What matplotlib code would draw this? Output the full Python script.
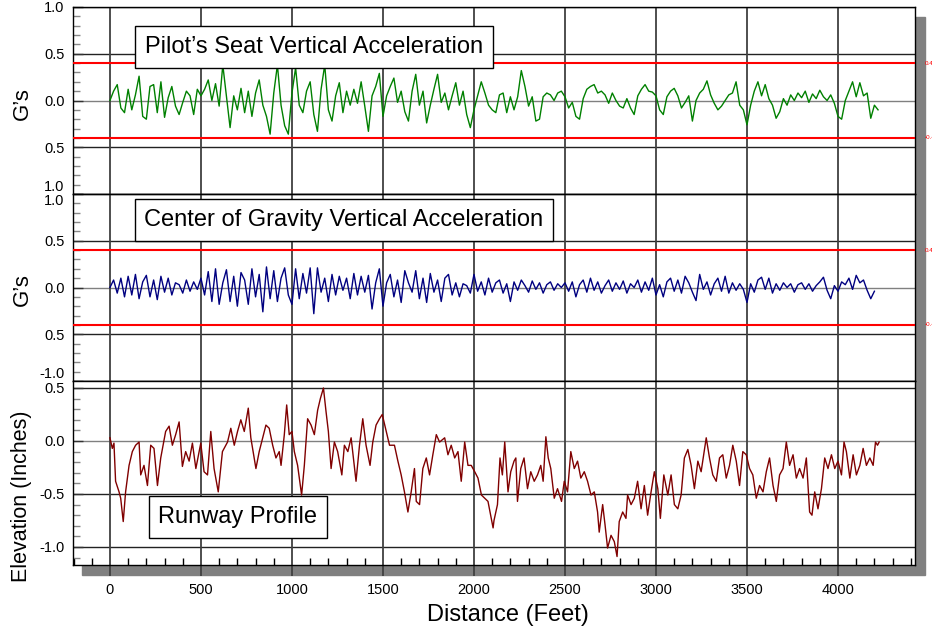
import matplotlib.pyplot as plt
import numpy as np
from matplotlib.patches import Rectangle
from matplotlib.ticker import MultipleLocator

plt.rcParams['font.family'] = ['Liberation Sans', 'DejaVu Sans']

# samples every 20 ft along the runway
step_ft = 20

pilot_g = [
    0.00, 0.10, 0.17, -0.08, -0.13, 0.12, -0.10, 0.06, 0.26, -0.17, -0.20, 0.15, 0.17,
    -0.13, 0.20, -0.18, 0.03, 0.15, -0.06, -0.15, -0.02, 0.10, 0.05, -0.15, 0.12,
    0.05, 0.12, 0.22, 0.00, 0.18, -0.06, 0.38, 0.05, -0.29, 0.05, -0.10, 0.13, -0.13,
    0.10, -0.17, 0.08, 0.22, -0.05, -0.17, -0.36, 0.08, 0.38, -0.05, -0.27, -0.36,
    0.08, 0.35, -0.05, -0.13, 0.10, 0.20, -0.15, -0.33, 0.12, 0.38, -0.10, -0.22, 0.05,
    0.19, -0.13, 0.10, -0.05, 0.12, -0.03, 0.20, -0.06, -0.33, 0.05, 0.15, 0.29,
    -0.17, 0.05, 0.15, 0.24, -0.02, 0.10, -0.12, -0.22, 0.10, 0.28, -0.05, 0.10, -0.24,
    -0.05, 0.12, 0.28, -0.02, 0.08, -0.10, 0.05, 0.19, -0.05, 0.10, -0.15, -0.29,
    -0.10, 0.05, 0.20, 0.08, -0.05, -0.10, -0.13, 0.06, 0.08, -0.13, 0.04, -0.10, 0.04,
    0.32, 0.15, -0.06, 0.04, -0.22, -0.20, 0.04, 0.08, 0.06, 0.00, 0.08, 0.10,
    0.04, -0.08, -0.02, -0.17, -0.20, 0.02, 0.12, 0.15, 0.17, 0.08, 0.10, 0.06, -0.03,
    0.08, 0.00, -0.06, -0.08, 0.02, -0.08, -0.15, 0.05, 0.12, 0.17, 0.10, 0.09,
    0.05, -0.10, -0.15, 0.04, 0.10, 0.13, 0.05, -0.08, -0.02, 0.05, -0.22, 0.00, 0.08,
    0.12, 0.21, 0.06, -0.03, -0.10, -0.06, 0.00, 0.06, 0.08, 0.20, -0.05, -0.10,
    -0.26, -0.05, 0.10, 0.20, 0.05, 0.17, 0.02, -0.05, -0.19, -0.12, 0.02, -0.05, 0.06,
    0.00, 0.08, 0.03, 0.10, -0.02, 0.07, 0.02, 0.11, 0.04, 0.00, 0.06, -0.03,
    -0.17, -0.20, 0.00, 0.10, 0.20, 0.04, 0.19, 0.05, 0.08, -0.19, -0.05, -0.10,
]

cg_g = [
    0.00, 0.08, -0.06, 0.10, -0.10, 0.12, -0.08, 0.14, -0.12, 0.06, 0.13, -0.10, 0.08,
    -0.13, 0.12, -0.05, 0.10, -0.08, 0.05, 0.03, -0.06, 0.08, -0.04, 0.06, -0.02,
    0.10, -0.08, 0.17, -0.15, 0.20, -0.18, 0.05, 0.19, -0.15, 0.12, -0.20, 0.16, 0.08,
    -0.18, 0.20, -0.10, 0.14, -0.26, 0.22, -0.12, 0.18, -0.15, 0.10, 0.21, -0.08,
    -0.18, 0.20, -0.12, 0.15, -0.06, 0.21, -0.28, 0.21, -0.05, 0.10, -0.15, 0.14, -0.08,
    0.12, -0.03, 0.10, -0.12, 0.15, -0.08, 0.12, -0.05, 0.13, -0.23, 0.05, 0.20,
    -0.20, 0.05, 0.14, -0.10, 0.08, -0.16, 0.18, 0.05, -0.05, 0.18, -0.12, 0.10, -0.16,
    0.15, -0.05, 0.08, -0.15, 0.10, 0.14, -0.08, 0.05, -0.10, 0.04, 0.02, -0.06,
    0.14, -0.04, 0.06, -0.08, 0.10, -0.05, 0.05, 0.08, -0.06, 0.04, -0.15, 0.06, -0.03,
    0.08, 0.02, -0.05, 0.07, -0.02, 0.05, -0.06, 0.03, 0.06, -0.03, 0.04, 0.00,
    0.05, -0.04, 0.06, -0.10, 0.03, 0.08, -0.05, 0.10, -0.03, 0.06, -0.06, 0.02, 0.08,
    -0.04, 0.05, -0.02, 0.07, -0.06, 0.04, 0.00, 0.08, -0.05, 0.06, -0.03, 0.10,
    -0.08, 0.03, -0.10, 0.06, 0.10, -0.04, 0.08, -0.06, 0.12, 0.05, -0.05, -0.14, 0.14,
    -0.02, 0.06, -0.08, 0.04, 0.10, -0.04, 0.12, -0.06, 0.05, -0.03, 0.04, -0.02,
    -0.16, 0.04, -0.05, 0.08, 0.11, -0.02, 0.10, -0.06, 0.04, -0.03, 0.05, 0.00, 0.04,
    -0.05, 0.03, 0.05, -0.02, 0.04, -0.04, 0.02, 0.06, 0.11, -0.03, -0.12, 0.02,
    -0.04, 0.06, 0.03, 0.10, -0.02, 0.13, 0.05, 0.08, -0.03, -0.12, -0.04,
]

runway_ft = [
    0, 13, 22, 31, 50, 59, 73, 86, 105, 123, 141, 160, 169, 187, 206, 224, 242, 261,
    279, 306, 325, 343, 361, 380, 398, 416, 435, 453, 472, 499, 517, 536, 554, 572,
    595, 618, 646, 664, 683, 701, 719, 738, 760, 774, 802, 820, 839, 857, 875, 894,
    912, 930, 940, 958, 971, 985, 1000, 1013, 1031, 1053, 1068, 1086, 1105, 1123,
    1141, 1156, 1173, 1187, 1200, 1215, 1233, 1251, 1274, 1288, 1307, 1325, 1352,
    1371, 1389, 1407, 1429, 1444, 1462, 1481, 1496, 1518, 1536, 1563, 1582, 1600,
    1618, 1637, 1655, 1673, 1683, 1701, 1719, 1738, 1756, 1774, 1793, 1811, 1839,
    1857, 1875, 1894, 1912, 1930, 1949, 1967, 1985, 2004, 2022, 2041, 2059, 2077,
    2105, 2110, 2129, 2143, 2156, 2169, 2187, 2202, 2220, 2230, 2239, 2257, 2275,
    2294, 2312, 2331, 2349, 2367, 2380, 2395, 2408, 2422, 2441, 2459, 2481, 2496,
    2514, 2532, 2551, 2569, 2587, 2606, 2624, 2643, 2661, 2679, 2688, 2707, 2720,
    2734, 2753, 2771, 2786, 2798, 2817, 2835, 2844, 2863, 2881, 2899, 2918, 2936,
    2954, 2973, 2991, 3010, 3024, 3043, 3065, 3083, 3101, 3120, 3138, 3156, 3175,
    3193, 3211, 3230, 3248, 3276, 3294, 3312, 3331, 3349, 3367, 3386, 3404, 3422,
    3441, 3459, 3477, 3496, 3514, 3532, 3551, 3569, 3588, 3606, 3624, 3643, 3661,
    3679, 3698, 3716, 3734, 3753, 3771, 3789, 3808, 3826, 3844, 3857, 3872, 3890,
    3909, 3927, 3945, 3964, 3982, 4000, 4019, 4033, 4046, 4065, 4083, 4101, 4120,
    4138, 4156, 4175, 4193, 4206, 4217, 4226,
]

runway_in = [
    0.03, -0.07, -0.02, -0.38, -0.48, -0.54, -0.76, -0.48, -0.23, -0.10, -0.04, -0.01,
    -0.32, -0.23, -0.42, -0.04, -0.07, -0.42, -0.16, 0.09, 0.14, -0.04, 0.06, 0.18,
    -0.24, -0.10, -0.19, -0.02, -0.26, -0.02, -0.29, -0.32, 0.09, -0.26, -0.48, -0.10,
    -0.01, 0.12, -0.04, 0.09, 0.20, 0.09, 0.31, 0.03, -0.26, -0.10, 0.03, 0.15, 0.12,
    -0.04, -0.16, -0.10, -0.23, 0.06, 0.34, 0.06, 0.09, -0.10, -0.23, -0.51, -0.23,
    0.21, 0.15, 0.06, 0.29, 0.40, 0.50, 0.28, 0.09, -0.26, -0.01, -0.10, -0.32, -0.04,
    -0.10, 0.03, -0.38, -0.04, 0.21, -0.04, -0.23, -0.01, 0.15, 0.21, 0.25, 0.09,
    -0.04, -0.04, -0.19, -0.32, -0.48, -0.67, -0.48, -0.26, -0.57, -0.60, -0.26, -0.16,
    -0.32, -0.13, 0.06, -0.01, 0.03, -0.13, -0.04, -0.16, -0.10, -0.38, -0.01, -0.23,
    -0.23, -0.29, -0.35, -0.51, -0.54, -0.57, -0.82, -0.75, -0.60, -0.16, -0.32, -0.01,
    -0.48, -0.29, -0.19, -0.16, -0.57, -0.26, -0.16, -0.45, -0.29, -0.38, -0.32, -0.23,
    -0.38, 0.04, -0.16, -0.26, -0.54, -0.45, -0.57, -0.38, -0.48, -0.10, -0.26, -0.19,
    -0.35, -0.29, -0.38, -0.51, -0.48, -0.67, -0.86, -0.60, -0.79, -1.01, -0.89, -0.95,
    -1.09, -0.76, -0.67, -0.73, -0.51, -0.60, -0.54, -0.38, -0.64, -0.42, -0.70, -0.48,
    -0.29, -0.45, -0.73, -0.32, -0.51, -0.32, -0.60, -0.64, -0.51, -0.16, -0.08, -0.23,
    -0.45, -0.19, -0.29, 0.03, -0.16, -0.32, -0.38, -0.16, -0.13, -0.35, -0.23, -0.04,
    -0.19, -0.42, -0.10, -0.13, -0.26, -0.32, -0.54, -0.42, -0.48, -0.29, -0.16, -0.42,
    -0.57, -0.32, -0.26, -0.01, -0.23, -0.13, -0.35, -0.26, -0.35, -0.16, -0.67, -0.70,
    -0.48, -0.64, -0.45, -0.16, -0.26, -0.13, -0.26, -0.19, -0.32, -0.01, -0.10, -0.35,
    -0.13, -0.32, -0.23, -0.07, -0.23, -0.16, -0.23, -0.01, -0.04, -0.01,
]

limit_g = 0.4
x_ticks = [0, 500, 1000, 1500, 2000, 2500, 3000, 3500, 4000]

W, H = 932, 635
fig = plt.figure(figsize=(W / 100, H / 100), dpi=100)


def px_axes(x0, y0, x1, y1):
    return fig.add_axes([x0 / W, 1 - y1 / H, (x1 - x0) / W, (y1 - y0) / H])


# drop shadow behind the plot frame
fig.patches.append(Rectangle((82 / W, 1 - 575 / H), (925 - 82) / W, (575 - 17) / H,
                             transform=fig.transFigure, color='#808080', zorder=-5))

ax1 = px_axes(73, 7, 915, 194)
ax2 = px_axes(73, 194, 915, 381)
ax3 = px_axes(73, 381, 915, 565)
axes = [ax1, ax2, ax3]

x_pilot = np.arange(len(pilot_g)) * step_ft
x_cg = np.arange(len(cg_g)) * step_ft

ax1.plot(x_pilot, pilot_g, color='#008000', lw=1.0, zorder=4)
ax2.plot(x_cg, cg_g, color='#000080', lw=1.0, zorder=4)
ax3.plot(runway_ft, runway_in, color='#800000', lw=1.0, zorder=4)

ax1.set_ylim(-1, 1)
ax2.set_ylim(-1, 1)
ax3.set_ylim(-1.17, 0.566)

ytick_sets = [
    ([1.0, 0.5, 0.0, -0.5, -1.0], ['1.0', '0.5', '0.0', '0.5', '1.0']),
    ([1.0, 0.5, 0.0, -0.5, -1.0], ['1.0', '0.5', '0.0', '0.5', '-1.0']),
    ([0.5, 0.0, -0.5, -1.0], ['0.5', '0.0', '-0.5', '-1.0']),
]

for ax, (ticks, labels) in zip(axes, ytick_sets):
    ax.set_facecolor('white')
    ax.set_xlim(-203, 4423)
    ax.set_yticks(ticks)
    ax.set_yticklabels(labels)
    ax.yaxis.set_minor_locator(MultipleLocator(0.1))
    ax.tick_params(axis='y', which='major', direction='in', length=7, width=1,
                   color='#333333', labelsize=10.5, pad=6)
    ax.tick_params(axis='y', which='minor', direction='in', length=5, width=1,
                   color='#888888')
    for t in ticks:
        ax.axhline(t, color='#222222' if t != 0 else '#808080', lw=1.0, zorder=1)
    for xt in x_ticks:
        ax.axvline(xt, color='#404040', lw=1.3, zorder=2)
    for s in ax.spines.values():
        s.set_color('black')
        s.set_linewidth(1.0)
    ax.set_xticks(x_ticks)

for ax in [ax1, ax2]:
    ax.tick_params(axis='x', which='both', bottom=False, labelbottom=False)
    ax.axhline(limit_g, color='#ff0000', lw=1.5, zorder=3)
    ax.axhline(-limit_g, color='#ff0000', lw=1.5, zorder=3)
    ax.text(1.011, limit_g, '0.4', transform=ax.get_yaxis_transform(),
            color='#ff0000', fontsize=4.5, va='center', ha='left')
    ax.text(1.011, -limit_g, '-0.4', transform=ax.get_yaxis_transform(),
            color='#ff0000', fontsize=4.5, va='center', ha='left')

# nudge labels at panel boundaries
lab1 = ax1.get_yticklabels()
lab1[-1].set_va('bottom')
lab2 = ax2.get_yticklabels()
lab2[0].set_va('top')
lab2[-1].set_va('bottom')

ax3.set_xticklabels([str(v) for v in x_ticks])
ax3.xaxis.set_minor_locator(MultipleLocator(100))
ax3.tick_params(axis='x', which='major', direction='out', length=8, width=1.3,
                color='#404040', labelsize=10.5, pad=5)
ax3.tick_params(axis='x', which='minor', direction='in', length=5, width=1,
                color='black')

box = dict(boxstyle='square,pad=0.42', facecolor='white', edgecolor='black', lw=1)
fig.text(314 / W, 1 - 47 / H, 'Pilot’s Seat Vertical Acceleration', fontsize=17,
         ha='center', va='center', bbox=box)
fig.text(344 / W, 1 - 220 / H, 'Center of Gravity Vertical Acceleration', fontsize=17,
         ha='center', va='center', bbox=box)
fig.text(238 / W, 1 - 517 / H, 'Runway Profile', fontsize=17,
         ha='center', va='center', bbox=box)

fig.text(22 / W, 1 - 104 / H, 'G’s', fontsize=16, rotation=90, ha='center', va='center')
fig.text(22 / W, 1 - 290 / H, 'G’s', fontsize=16, rotation=90, ha='center', va='center')
fig.text(22 / W, 1 - 496 / H, 'Elevation (Inches)', fontsize=15.5, rotation=90,
         ha='center', va='center')
fig.text(508 / W, 1 - 615 / H, 'Distance (Feet)', fontsize=17, ha='center', va='center')

fig.savefig('out.png', dpi=100)
